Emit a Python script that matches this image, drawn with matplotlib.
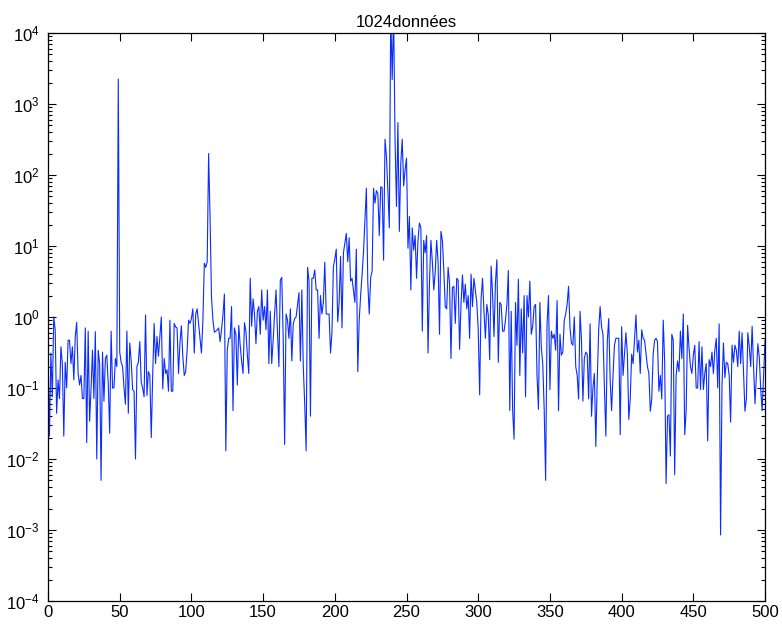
import numpy as np
import matplotlib
matplotlib.use("Agg")
import matplotlib.pyplot as plt
from matplotlib.ticker import LogLocator, MultipleLocator, NullFormatter

plt.rcParams['font.family'] = ['Liberation Sans', 'DejaVu Sans']
plt.rcParams['mathtext.fontset'] = 'custom'
plt.rcParams['mathtext.rm'] = 'Liberation Sans'

title = "1024données"

# spectrum magnitude, one value per frequency bin (0..500)
spectrum = [
    0.30, 0.021, 0.31, 0.075, 1.0, 0.66, 0.044, 0.13, 0.071, 0.38,
    0.22, 0.021, 0.23, 0.10, 0.47, 0.47, 0.22, 0.38, 0.13, 0.53,
    0.84, 0.16, 0.11, 0.15, 0.071, 0.071, 0.70, 0.017, 0.63, 0.034,
    0.095, 0.34, 0.071, 0.62, 0.010, 0.34, 0.22, 0.005, 0.32, 0.065,
    0.26, 0.29, 0.115, 0.023, 0.63, 0.10, 0.10, 0.26, 0.20, 2240,
    0.32, 0.23, 0.20, 0.10, 0.059, 0.63, 0.044, 0.43, 0.24, 0.095,
    0.09, 0.010, 0.20, 0.23, 0.45, 0.12, 0.10, 0.075, 1.07, 0.078,
    0.17, 0.15, 0.02, 0.15, 0.81, 0.22, 0.53, 0.28, 0.53, 1.0,
    0.097, 0.26, 0.16, 0.18, 0.09, 0.9, 0.09, 0.09, 0.81, 0.72,
    0.7, 0.16, 0.43, 0.75, 0.28, 0.15, 0.17, 0.34, 0.9, 0.81,
    0.95, 1.3, 0.31, 1.1, 1.3, 0.81, 0.5, 0.31, 0.9, 5.7,
    5.0, 6.0, 200, 25, 1.9, 0.9, 0.61, 0.63, 0.66, 0.7,
    0.45, 0.66, 1.07, 2.1, 0.013, 0.34, 0.5, 0.5, 1.4, 0.048,
    0.7, 0.57, 0.11, 0.76, 0.40, 0.24, 0.16, 0.83, 0.63, 0.29,
    0.16, 3.5, 0.74, 1.8, 1.1, 0.42, 1.2, 1.4, 0.57, 2.4,
    0.9, 1.4, 0.66, 2.4, 0.22, 1.2, 0.22, 0.47, 1.1, 2.4,
    0.63, 0.2, 3.3, 3.6, 0.5, 0.016, 1.1, 0.9, 0.5, 1.3,
    0.24, 0.8, 0.95, 1.0, 1.5, 2.2, 0.24, 2.4, 0.2, 0.06,
    0.013, 5.0, 3.2, 0.04, 3.5, 3.5, 4.6, 2.4, 2.4, 0.5,
    2.0, 1.1, 1.6, 5.9, 1.1, 1.1, 1.1, 0.31, 0.6, 5.1,
    6.5, 9.0, 0.85, 1.6, 7.1, 0.7, 8.0, 11, 15, 6.0,
    13, 3.2, 3.5, 2.4, 1.6, 9.0, 0.17, 0.9, 2.0, 3.9,
    8.2, 23, 65, 3.0, 1.1, 3.6, 4.4, 65, 40, 60,
    55, 14, 68, 66, 6.3, 318, 182, 60, 18, 20000,
    2200, 20000, 300, 36, 546, 16, 146, 318, 70, 118,
    172, 9.3, 26, 2.4, 18, 8.7, 14, 3.5, 12, 21,
    18, 0.63, 12, 8, 14, 0.31, 3.0, 12, 6, 2.4,
    4.2, 12, 6, 0.57, 16, 12, 4.6, 1.4, 1.3, 5.0,
    3.0, 0.26, 2.6, 2.7, 0.81, 3.5, 3.3, 0.35, 1.5, 3.9,
    1.6, 2.9, 1.3, 2.0, 0.5, 4.0, 1.4, 3.5, 2.4, 1.6,
    0.66, 0.08, 1.8, 3.5, 1.2, 0.5, 1.5, 1.07, 0.25, 5.2,
    2.1, 0.53, 3.0, 6.4, 0.23, 1.6, 1.5, 0.63, 0.63, 0.9,
    1.5, 4.5, 0.048, 1.2, 0.048, 0.019, 1.6, 0.4, 3.4, 0.15,
    1.3, 0.31, 2.0, 0.075, 2.0, 1.0, 3.2, 0.57, 0.74, 1.4,
    1.5, 0.15, 0.05, 1.6, 0.37, 0.22, 0.05, 0.005, 0.81, 2.0,
    0.095, 0.63, 0.5, 0.57, 0.34, 1.7, 0.048, 0.57, 0.29, 0.32,
    0.9, 1.1, 1.5, 2.7, 0.7, 0.43, 0.4, 1.0, 0.2, 0.15,
    0.07, 1.2, 0.47, 0.065, 0.26, 0.32, 0.3, 0.07, 0.8, 0.04,
    0.1, 0.16, 0.015, 0.13, 0.66, 1.4, 0.72, 0.57, 0.1, 0.021,
    0.45, 0.95, 0.13, 0.048, 0.15, 0.4, 0.5, 0.5, 0.5, 0.022,
    0.73, 0.15, 0.3, 0.6, 0.3, 0.036, 0.07, 0.3, 0.22, 0.5,
    1.07, 0.32, 0.47, 0.16, 0.66, 0.5, 0.47, 0.31, 0.2, 0.16,
    0.047, 0.07, 0.3, 0.47, 0.5, 0.45, 0.09, 0.15, 0.07, 0.9,
    0.24, 0.0045, 0.04, 0.042, 0.011, 0.57, 0.47, 0.006, 0.15, 0.24,
    0.17, 0.63, 0.26, 1.1, 0.022, 0.048, 0.76, 0.37, 0.2, 0.16,
    0.29, 0.4, 0.1, 0.1, 0.45, 0.095, 0.38, 0.095, 0.16, 0.22,
    0.018, 0.25, 0.2, 0.32, 0.16, 0.34, 0.5, 0.1, 0.8, 0.00085,
    0.11, 0.43, 0.14, 0.23, 0.22, 0.15, 0.033, 0.4, 0.23, 0.4,
    0.34, 0.2, 0.63, 0.22, 0.6, 0.16, 0.047, 0.07, 0.6, 0.38,
    0.2, 0.74, 0.2, 0.06, 0.16, 0.42, 0.27, 0.095, 0.048, 0.15,
    0.47,
]
freq = np.arange(len(spectrum))

fig = plt.figure(figsize=(7.82, 6.27), dpi=100)
ax = fig.add_axes([0.0614, 0.0415, 0.9169, 0.906])

ax.semilogy(freq, spectrum, color='#0a2cff', lw=0.8)

ax.set_xlim(0, 500)
ax.set_ylim(1e-4, 1e4)
ax.xaxis.set_major_locator(MultipleLocator(50))
ax.yaxis.set_major_locator(LogLocator(base=10, numticks=20))
ax.yaxis.set_minor_locator(LogLocator(base=10, subs=np.arange(2, 10), numticks=20))
ax.yaxis.set_minor_formatter(NullFormatter())

ax.tick_params(which='both', direction='in', top=True, right=True,
               labelsize=12, width=0.8)
ax.tick_params(axis='x', pad=3)
ax.tick_params(axis='y', pad=6)
ax.tick_params(which='major', length=6)
ax.tick_params(which='minor', length=3)
for s in ax.spines.values():
    s.set_linewidth(0.9)

ax.set_title(title, fontsize=12, pad=4)

fig.savefig("out.png", dpi=100)
